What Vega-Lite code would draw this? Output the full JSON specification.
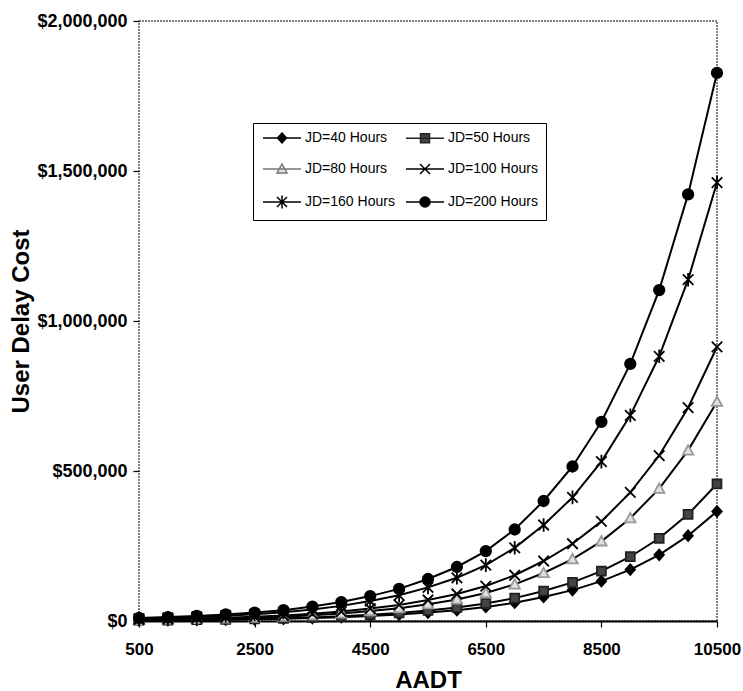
{
  "$schema": "https://vega.github.io/schema/vega-lite/v6.json",
  "width": 578,
  "height": 600,
  "autosize": {"type": "none"},
  "padding": {"left": 139, "top": 21, "right": 26, "bottom": 70},
  "background": "white",
  "config": {
    "view": {"stroke": "#555", "strokeWidth": 1.5, "strokeDash": [2, 1]},
    "axis": {
      "labelFont": "Liberation Sans",
      "labelFontWeight": "bold",
      "labelColor": "black",
      "titleFont": "Liberation Sans",
      "titleFontWeight": "bold",
      "titleColor": "black",
      "titleFontSize": 24,
      "tickColor": "black",
      "tickSize": 6,
      "tickWidth": 1.2,
      "grid": false
    },
    "legend": {
      "title": null,
      "orient": "none",
      "direction": "horizontal",
      "legendX": 114,
      "legendY": 102,
      "columns": 2,
      "fillColor": "white",
      "strokeColor": "black",
      "padding": 8,
      "rowPadding": 15,
      "columnPadding": 8,
      "labelFont": "Liberation Sans",
      "labelFontSize": 14,
      "labelColor": "black",
      "labelOffset": 30,
      "symbolSize": 100,
      "symbolStrokeWidth": 1.5,
      "symbolOpacity": 1
    }
  },
  "data": {
    "values": [
      {"AADT": 500, "JD": "JD=40 Hours", "cost": 2000},
      {"AADT": 1000, "JD": "JD=40 Hours", "cost": 2600},
      {"AADT": 1500, "JD": "JD=40 Hours", "cost": 3400},
      {"AADT": 2000, "JD": "JD=40 Hours", "cost": 4400},
      {"AADT": 2500, "JD": "JD=40 Hours", "cost": 5600},
      {"AADT": 3000, "JD": "JD=40 Hours", "cost": 7200},
      {"AADT": 3500, "JD": "JD=40 Hours", "cost": 9600},
      {"AADT": 4000, "JD": "JD=40 Hours", "cost": 12600},
      {"AADT": 4500, "JD": "JD=40 Hours", "cost": 16600},
      {"AADT": 5000, "JD": "JD=40 Hours", "cost": 21400},
      {"AADT": 5500, "JD": "JD=40 Hours", "cost": 28000},
      {"AADT": 6000, "JD": "JD=40 Hours", "cost": 36000},
      {"AADT": 6500, "JD": "JD=40 Hours", "cost": 46600},
      {"AADT": 7000, "JD": "JD=40 Hours", "cost": 61000},
      {"AADT": 7500, "JD": "JD=40 Hours", "cost": 80000},
      {"AADT": 8000, "JD": "JD=40 Hours", "cost": 103000},
      {"AADT": 8500, "JD": "JD=40 Hours", "cost": 132800},
      {"AADT": 9000, "JD": "JD=40 Hours", "cost": 171400},
      {"AADT": 9500, "JD": "JD=40 Hours", "cost": 220600},
      {"AADT": 10000, "JD": "JD=40 Hours", "cost": 284400},
      {"AADT": 10500, "JD": "JD=40 Hours", "cost": 365400},
      {"AADT": 500, "JD": "JD=50 Hours", "cost": 2500},
      {"AADT": 1000, "JD": "JD=50 Hours", "cost": 3250},
      {"AADT": 1500, "JD": "JD=50 Hours", "cost": 4250},
      {"AADT": 2000, "JD": "JD=50 Hours", "cost": 5500},
      {"AADT": 2500, "JD": "JD=50 Hours", "cost": 7000},
      {"AADT": 3000, "JD": "JD=50 Hours", "cost": 9000},
      {"AADT": 3500, "JD": "JD=50 Hours", "cost": 12000},
      {"AADT": 4000, "JD": "JD=50 Hours", "cost": 15750},
      {"AADT": 4500, "JD": "JD=50 Hours", "cost": 20750},
      {"AADT": 5000, "JD": "JD=50 Hours", "cost": 26750},
      {"AADT": 5500, "JD": "JD=50 Hours", "cost": 35000},
      {"AADT": 6000, "JD": "JD=50 Hours", "cost": 45000},
      {"AADT": 6500, "JD": "JD=50 Hours", "cost": 58250},
      {"AADT": 7000, "JD": "JD=50 Hours", "cost": 76250},
      {"AADT": 7500, "JD": "JD=50 Hours", "cost": 100000},
      {"AADT": 8000, "JD": "JD=50 Hours", "cost": 128750},
      {"AADT": 8500, "JD": "JD=50 Hours", "cost": 166000},
      {"AADT": 9000, "JD": "JD=50 Hours", "cost": 214250},
      {"AADT": 9500, "JD": "JD=50 Hours", "cost": 275750},
      {"AADT": 10000, "JD": "JD=50 Hours", "cost": 355500},
      {"AADT": 10500, "JD": "JD=50 Hours", "cost": 456750},
      {"AADT": 500, "JD": "JD=80 Hours", "cost": 4000},
      {"AADT": 1000, "JD": "JD=80 Hours", "cost": 5200},
      {"AADT": 1500, "JD": "JD=80 Hours", "cost": 6800},
      {"AADT": 2000, "JD": "JD=80 Hours", "cost": 8800},
      {"AADT": 2500, "JD": "JD=80 Hours", "cost": 11200},
      {"AADT": 3000, "JD": "JD=80 Hours", "cost": 14400},
      {"AADT": 3500, "JD": "JD=80 Hours", "cost": 19200},
      {"AADT": 4000, "JD": "JD=80 Hours", "cost": 25200},
      {"AADT": 4500, "JD": "JD=80 Hours", "cost": 33200},
      {"AADT": 5000, "JD": "JD=80 Hours", "cost": 42800},
      {"AADT": 5500, "JD": "JD=80 Hours", "cost": 56000},
      {"AADT": 6000, "JD": "JD=80 Hours", "cost": 72000},
      {"AADT": 6500, "JD": "JD=80 Hours", "cost": 93200},
      {"AADT": 7000, "JD": "JD=80 Hours", "cost": 122000},
      {"AADT": 7500, "JD": "JD=80 Hours", "cost": 160000},
      {"AADT": 8000, "JD": "JD=80 Hours", "cost": 206000},
      {"AADT": 8500, "JD": "JD=80 Hours", "cost": 265600},
      {"AADT": 9000, "JD": "JD=80 Hours", "cost": 342800},
      {"AADT": 9500, "JD": "JD=80 Hours", "cost": 441200},
      {"AADT": 10000, "JD": "JD=80 Hours", "cost": 568800},
      {"AADT": 10500, "JD": "JD=80 Hours", "cost": 730800},
      {"AADT": 500, "JD": "JD=100 Hours", "cost": 5000},
      {"AADT": 1000, "JD": "JD=100 Hours", "cost": 6500},
      {"AADT": 1500, "JD": "JD=100 Hours", "cost": 8500},
      {"AADT": 2000, "JD": "JD=100 Hours", "cost": 11000},
      {"AADT": 2500, "JD": "JD=100 Hours", "cost": 14000},
      {"AADT": 3000, "JD": "JD=100 Hours", "cost": 18000},
      {"AADT": 3500, "JD": "JD=100 Hours", "cost": 24000},
      {"AADT": 4000, "JD": "JD=100 Hours", "cost": 31500},
      {"AADT": 4500, "JD": "JD=100 Hours", "cost": 41500},
      {"AADT": 5000, "JD": "JD=100 Hours", "cost": 53500},
      {"AADT": 5500, "JD": "JD=100 Hours", "cost": 70000},
      {"AADT": 6000, "JD": "JD=100 Hours", "cost": 90000},
      {"AADT": 6500, "JD": "JD=100 Hours", "cost": 116500},
      {"AADT": 7000, "JD": "JD=100 Hours", "cost": 152500},
      {"AADT": 7500, "JD": "JD=100 Hours", "cost": 200000},
      {"AADT": 8000, "JD": "JD=100 Hours", "cost": 257500},
      {"AADT": 8500, "JD": "JD=100 Hours", "cost": 332000},
      {"AADT": 9000, "JD": "JD=100 Hours", "cost": 428500},
      {"AADT": 9500, "JD": "JD=100 Hours", "cost": 551500},
      {"AADT": 10000, "JD": "JD=100 Hours", "cost": 711000},
      {"AADT": 10500, "JD": "JD=100 Hours", "cost": 913500},
      {"AADT": 500, "JD": "JD=160 Hours", "cost": 8000},
      {"AADT": 1000, "JD": "JD=160 Hours", "cost": 10400},
      {"AADT": 1500, "JD": "JD=160 Hours", "cost": 13600},
      {"AADT": 2000, "JD": "JD=160 Hours", "cost": 17600},
      {"AADT": 2500, "JD": "JD=160 Hours", "cost": 22400},
      {"AADT": 3000, "JD": "JD=160 Hours", "cost": 28800},
      {"AADT": 3500, "JD": "JD=160 Hours", "cost": 38400},
      {"AADT": 4000, "JD": "JD=160 Hours", "cost": 50400},
      {"AADT": 4500, "JD": "JD=160 Hours", "cost": 66400},
      {"AADT": 5000, "JD": "JD=160 Hours", "cost": 85600},
      {"AADT": 5500, "JD": "JD=160 Hours", "cost": 112000},
      {"AADT": 6000, "JD": "JD=160 Hours", "cost": 144000},
      {"AADT": 6500, "JD": "JD=160 Hours", "cost": 186400},
      {"AADT": 7000, "JD": "JD=160 Hours", "cost": 244000},
      {"AADT": 7500, "JD": "JD=160 Hours", "cost": 320000},
      {"AADT": 8000, "JD": "JD=160 Hours", "cost": 412000},
      {"AADT": 8500, "JD": "JD=160 Hours", "cost": 531200},
      {"AADT": 9000, "JD": "JD=160 Hours", "cost": 685600},
      {"AADT": 9500, "JD": "JD=160 Hours", "cost": 882400},
      {"AADT": 10000, "JD": "JD=160 Hours", "cost": 1137600},
      {"AADT": 10500, "JD": "JD=160 Hours", "cost": 1461600},
      {"AADT": 500, "JD": "JD=200 Hours", "cost": 10000},
      {"AADT": 1000, "JD": "JD=200 Hours", "cost": 13000},
      {"AADT": 1500, "JD": "JD=200 Hours", "cost": 17000},
      {"AADT": 2000, "JD": "JD=200 Hours", "cost": 22000},
      {"AADT": 2500, "JD": "JD=200 Hours", "cost": 28000},
      {"AADT": 3000, "JD": "JD=200 Hours", "cost": 36000},
      {"AADT": 3500, "JD": "JD=200 Hours", "cost": 48000},
      {"AADT": 4000, "JD": "JD=200 Hours", "cost": 63000},
      {"AADT": 4500, "JD": "JD=200 Hours", "cost": 83000},
      {"AADT": 5000, "JD": "JD=200 Hours", "cost": 107000},
      {"AADT": 5500, "JD": "JD=200 Hours", "cost": 140000},
      {"AADT": 6000, "JD": "JD=200 Hours", "cost": 180000},
      {"AADT": 6500, "JD": "JD=200 Hours", "cost": 233000},
      {"AADT": 7000, "JD": "JD=200 Hours", "cost": 305000},
      {"AADT": 7500, "JD": "JD=200 Hours", "cost": 400000},
      {"AADT": 8000, "JD": "JD=200 Hours", "cost": 515000},
      {"AADT": 8500, "JD": "JD=200 Hours", "cost": 664000},
      {"AADT": 9000, "JD": "JD=200 Hours", "cost": 857000},
      {"AADT": 9500, "JD": "JD=200 Hours", "cost": 1103000},
      {"AADT": 10000, "JD": "JD=200 Hours", "cost": 1422000},
      {"AADT": 10500, "JD": "JD=200 Hours", "cost": 1827000}
    ]
  },
  "encoding": {
    "x": {
      "field": "AADT",
      "type": "quantitative",
      "scale": {"domain": [500, 10500], "nice": false, "zero": false},
      "axis": {
        "title": "AADT",
        "values": [500, 2500, 4500, 6500, 8500, 10500],
        "format": "d",
        "labelFontSize": 17,
        "labelPadding": 14,
        "titlePadding": 11,
        "domainColor": "black",
        "domainWidth": 2,
        "labelFlush": false
      }
    },
    "y": {
      "field": "cost",
      "type": "quantitative",
      "scale": {"domain": [0, 2000000], "nice": false},
      "axis": {
        "title": "User Delay Cost",
        "values": [0, 500000, 1000000, 1500000, 2000000],
        "format": "$,.0f",
        "labelFontSize": 18,
        "labelPadding": 6,
        "titlePadding": 3,
        "domain": false
      }
    }
  },
  "resolve": {"scale": {"shape": "independent", "fill": "independent", "stroke": "independent"}},
  "layer": [
    {
      "mark": {"type": "line", "color": "black", "strokeWidth": 2},
      "encoding": {"detail": {"field": "JD"}}
    },
    {
      "mark": {"type": "point", "filled": true, "size": 110, "strokeWidth": 1.8, "opacity": 1},
      "encoding": {
        "fill": {
          "field": "JD",
          "type": "nominal",
          "legend": null,
          "scale": {
            "domain": ["JD=40 Hours", "JD=50 Hours", "JD=80 Hours", "JD=100 Hours", "JD=160 Hours", "JD=200 Hours"],
            "range": ["black", "#444", "#e0e0e0", "black", "black", "black"]
          }
        },
        "stroke": {
          "field": "JD",
          "type": "nominal",
          "legend": null,
          "scale": {
            "domain": ["JD=40 Hours", "JD=50 Hours", "JD=80 Hours", "JD=100 Hours", "JD=160 Hours", "JD=200 Hours"],
            "range": ["black", "#222", "#999", "black", "black", "black"]
          }
        },
        "shape": {
          "field": "JD",
          "type": "nominal",
          "legend": null,
          "scale": {
            "domain": ["JD=40 Hours", "JD=50 Hours", "JD=80 Hours", "JD=100 Hours", "JD=160 Hours", "JD=200 Hours"],
            "range": [
              "M0,-1L0.9,0L0,1L-0.9,0Z",
              "M-0.85,-0.85H0.85V0.85H-0.85Z",
              "M0,-1L1,0.8H-1Z",
              "M-1,-1L1,1M-1,1L1,-1",
              "M-1,-1L1,1M-1,1L1,-1M0,-1.3V1.3",
              "M-1,0A1,1 0 1,0 1,0A1,1 0 1,0 -1,0Z"
            ]
          }
        }
      }
    },
    {
      "mark": {"type": "point", "filled": true, "size": 100, "strokeWidth": 1.5, "opacity": 0},
      "encoding": {
        "fill": {
          "field": "JD",
          "type": "nominal",
          "scale": {
            "domain": ["JD=40 Hours", "JD=50 Hours", "JD=80 Hours", "JD=100 Hours", "JD=160 Hours", "JD=200 Hours"],
            "range": ["black", "#444", "#e0e0e0", "black", "black", "black"]
          }
        },
        "stroke": {
          "field": "JD",
          "type": "nominal",
          "scale": {
            "domain": ["JD=40 Hours", "JD=50 Hours", "JD=80 Hours", "JD=100 Hours", "JD=160 Hours", "JD=200 Hours"],
            "range": ["black", "#222", "#777", "black", "black", "black"]
          }
        },
        "shape": {
          "field": "JD",
          "type": "nominal",
          "scale": {
            "domain": ["JD=40 Hours", "JD=50 Hours", "JD=80 Hours", "JD=100 Hours", "JD=160 Hours", "JD=200 Hours"],
            "range": [
              "M-1,0H6.6M2.8,-1L3.7,0L2.8,1L1.9,0Z",
              "M-1,0H6.6M1.9,-0.9H3.7V0.9H1.9Z",
              "M-1,0H6.6M2.8,-1L3.8,0.8H1.8Z",
              "M-1,0H6.6M1.8,-1L3.8,1M1.8,1L3.8,-1",
              "M-1,0H6.6M1.8,-1L3.8,1M1.8,1L3.8,-1M2.8,-1.3V1.3",
              "M-1,0H6.6M1.8,0A1,1 0 1,0 3.8,0A1,1 0 1,0 1.8,0Z"
            ]
          }
        }
      }
    }
  ]
}
